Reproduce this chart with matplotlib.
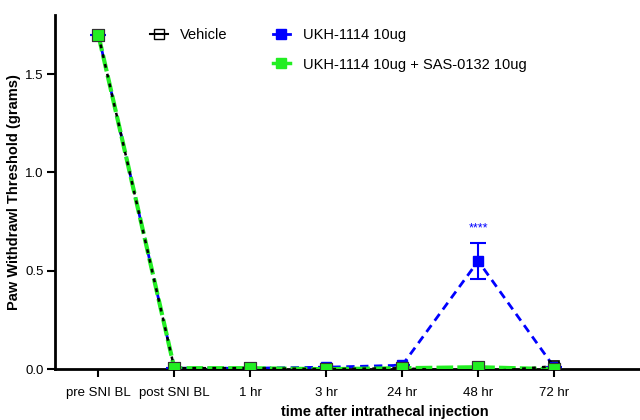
import matplotlib
matplotlib.use("Agg")
import matplotlib.pyplot as plt
from matplotlib.lines import Line2D

plt.rcParams['font.family'] = ['Liberation Sans', 'DejaVu Sans']

categories = ["pre SNI BL", "post SNI BL", "1 hr", "3 hr", "24 hr", "48 hr", "72 hr"]
vehicle = [1.70, 0.005, 0.005, 0.0, 0.005, -0.015, 0.015]
ukh = [1.70, 0.005, 0.005, 0.01, 0.02, 0.55, 0.01]
ukh_err = [0, 0, 0, 0, 0, 0.09, 0]
combo = [1.70, 0.005, 0.005, 0.0, 0.005, 0.01, 0.0]

x = list(range(len(categories)))

fig = plt.figure(figsize=(6.4, 4.2), dpi=100)
ax = fig.add_axes([0.086, 0.121, 0.914, 0.843])

ax.errorbar(x, ukh, yerr=ukh_err, color='#0000ff', linestyle=(0, (3, 2)), lw=2,
            marker='s', ms=7, mfc='#0000ff', mec='#0000ff', capsize=6, elinewidth=1.5,
            capthick=1.5, zorder=3)
ax.plot(x, combo, color='#22ee22', linestyle=(0, (4, 1)), lw=3, marker='s', ms=8,
        mfc='#22ee22', mec='#333333', mew=0.8, zorder=4)
ax.plot(x, vehicle, color='black', linestyle=(0, (1.5, 2.5)), lw=1.8, marker='s', ms=7,
        mfc='none', mec='black', mew=1.2, zorder=4.5)
# redraw combo markers on top
ax.plot(x, combo, linestyle='none', marker='s', ms=8, mfc='#22ee22', mec='#333333',
        mew=0.8, zorder=5)

ax.text(5, 0.715, "****", color='#0000ff', ha='center', va='center', fontsize=9)

ax.set_xlim(-0.57, 7.13)
ax.set_ylim(0, 1.8)
ax.set_yticks([0.0, 0.5, 1.0, 1.5])
ax.set_yticklabels(["0.0", "0.5", "1.0", "1.5"])
ax.set_xticks(x)
ax.set_xticklabels(categories)
for s in ['top', 'right']:
    ax.spines[s].set_visible(False)
for s in ['left', 'bottom']:
    ax.spines[s].set_linewidth(2)
ax.tick_params(direction='out', length=6, width=1.5, labelsize=9.5)
ax.tick_params(axis='x', pad=7)
ax.tick_params(axis='y', pad=2)
ax.set_ylabel("Paw Withdrawl Threshold (grams)", fontsize=10.5, fontweight='bold')
ax.yaxis.set_label_coords(-0.058, 0.5)
ax.set_xlabel("time after intrathecal injection", fontsize=10.5, fontweight='bold')
ax.xaxis.set_label_coords(0.564, -0.1)

h_veh = Line2D([], [], color='black', lw=1.5, marker='s', ms=7, mfc='none', mec='black')
h_blank = Line2D([], [], color='none')
h_ukh = Line2D([], [], color='#0000ff', lw=2, marker='s', ms=7, mfc='#0000ff', mec='#0000ff')
h_combo = Line2D([], [], color='#22ee22', lw=2.5, marker='s', ms=7, mfc='#22ee22', mec='#22ee22')
ax.legend([h_veh, h_blank, h_ukh, h_combo],
          ["Vehicle", "", "UKH-1114 10ug", "UKH-1114 10ug + SAS-0132 10ug"],
          ncol=2, frameon=False, loc='upper left', bbox_to_anchor=(0.14, 1.0),
          fontsize=10.5, handlelength=1.2, columnspacing=3.1, labelspacing=1.05,
          handletextpad=0.85)

fig.savefig("out.png", dpi=100)
